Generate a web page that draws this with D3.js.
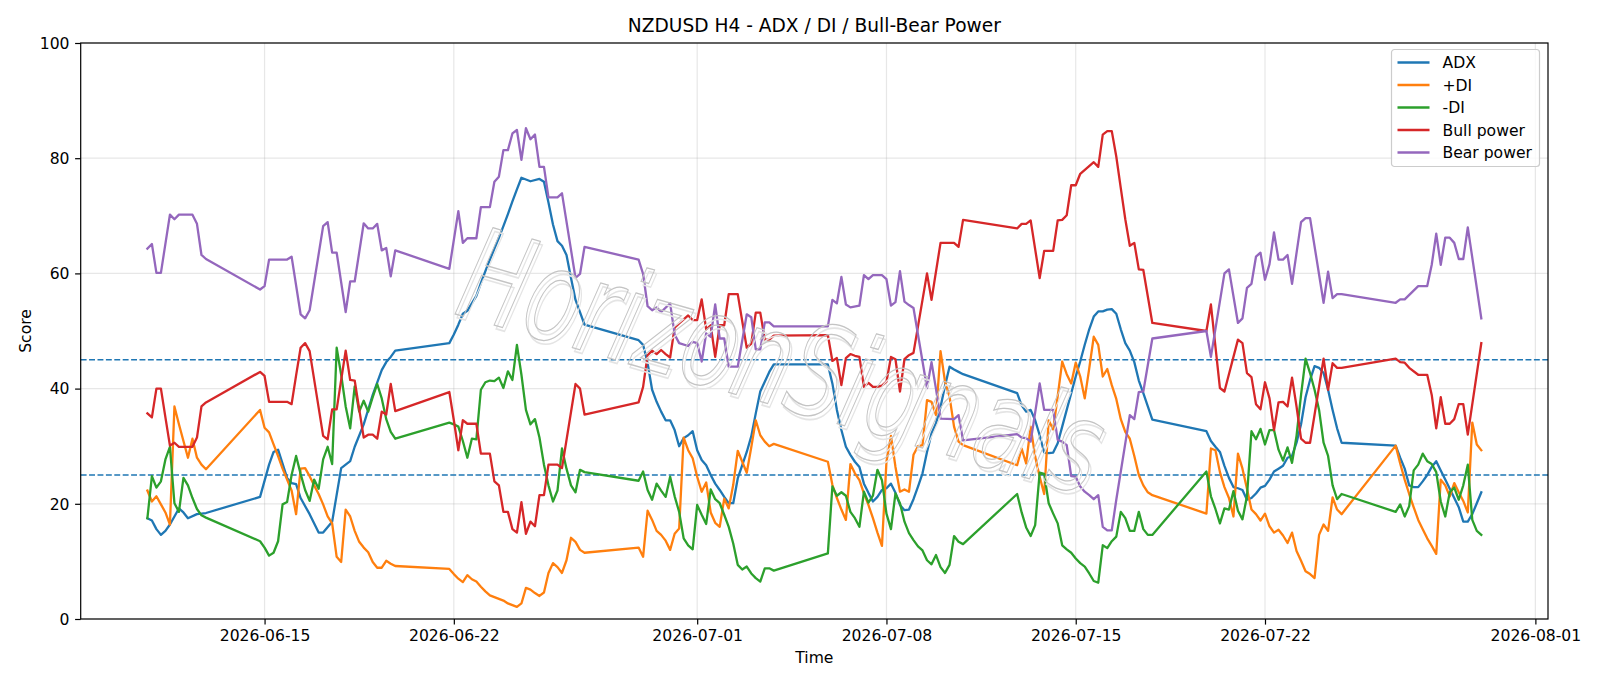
<!DOCTYPE html>
<html>
<head>
<meta charset="utf-8">
<script src="https://cdn.jsdelivr.net/npm/d3@7"></script>
<style>
  body { margin: 0; background: #fff; }
  svg { display: block; font-family: "DejaVu Sans", sans-serif; }
</style>
</head>
<body>
<svg id="chart" width="1600" height="686"></svg>
<script>
// H4 bars, "MM-DD HH" (2026), value
const adx = [
  ['06-10 16',17.5],['06-10 20',17.1],['06-11 00',15.6],['06-11 04',14.6],['06-11 08',15.3],['06-11 12',16.4],['06-11 16',17.8],['06-11 20',19.2],['06-12 00',18.5],['06-12 04',17.5],['06-12 12',18.2],['06-12 16',18.3],['06-12 20',18.4],
  ['06-14 20',21.2],['06-15 04',26.8],['06-15 08',29.0],['06-15 12',29.4],['06-15 20',24.5],['06-16 00',23.6],['06-16 04',23.4],['06-16 08',21.0],['06-16 16',18.2],['06-17 00',15.0],['06-17 04',15.0],['06-17 12',16.9],['06-17 20',26.2],['06-18 04',27.4],['06-18 08',29.9],['06-18 16',33.8],['06-19 00',38.9],['06-19 08',43.2],['06-19 12',44.6],['06-19 16',45.5],['06-19 20',46.6],
  ['06-21 20',47.9],['06-22 00',49.4],['06-22 04',51.1],['06-22 08',53.0],['06-22 12',53.5],['06-22 16',54.8],['06-22 20',56.1],['06-23 00',58.3],['06-23 04',60.4],['06-23 08',62.4],['06-23 12',64.3],['06-23 16',66.2],['06-23 20',68.2],['06-24 00',70.3],['06-24 04',72.5],['06-24 08',74.6],['06-24 12',76.6],['06-24 16',76.3],['06-24 20',76.0],['06-25 04',76.4],['06-25 08',75.9],['06-25 12',72.3],['06-25 16',68.5],['06-25 20',65.6],['06-26 00',64.8],['06-26 04',63.2],['06-26 08',59.2],['06-26 12',55.4],['06-26 20',51.1],
  ['06-28 20',48.4],['06-29 00',47.6],['06-29 04',44.4],['06-29 08',39.8],['06-29 12',37.7],['06-29 16',36.0],['06-29 20',34.5],['06-30 00',34.5],['06-30 04',32.8],['06-30 08',30.0],['06-30 12',31.4],['06-30 16',31.9],['06-30 20',32.6],['07-01 00',29.3],['07-01 04',27.6],['07-01 08',26.7],['07-01 12',25.0],['07-01 16',23.5],['07-01 20',22.4],['07-02 00',21.2],['07-02 04',20.1],['07-02 08',20.1],['07-02 12',24.4],['07-02 16',26.7],['07-02 20',29.0],['07-03 00',31.7],['07-03 04',35.7],['07-03 08',39.5],['07-03 12',41.2],['07-03 16',42.9],['07-03 20',44.2],
  ['07-05 20',44.2],['07-06 00',40.9],['07-06 04',36.3],['07-06 08',32.8],['07-06 12',29.9],['07-06 16',28.5],['07-06 20',27.3],['07-07 00',26.4],['07-07 04',23.5],['07-07 08',21.9],['07-07 12',20.4],['07-07 16',21.2],['07-07 20',22.4],['07-08 00',22.7],['07-08 04',23.5],['07-08 08',21.9],['07-08 12',19.8],['07-08 16',18.9],['07-08 20',19.0],['07-09 00',20.8],['07-09 04',23.0],['07-09 08',25.3],['07-09 12',29.0],['07-09 16',32.2],['07-09 20',34.0],['07-10 00',36.8],['07-10 04',40.5],['07-10 08',43.8],['07-10 12',43.3],['07-10 16',42.9],['07-10 20',42.5],
  ['07-12 20',39.2],['07-13 00',37.1],['07-13 04',36.0],['07-13 08',36.3],['07-13 12',34.5],['07-13 16',31.9],['07-13 20',28.9],['07-14 00',28.8],['07-14 04',28.9],['07-14 08',30.5],['07-14 12',33.4],['07-14 16',36.3],['07-14 20',39.2],['07-15 00',42.1],['07-15 04',44.7],['07-15 08',47.6],['07-15 12',50.3],['07-15 16',52.5],['07-15 20',53.4],['07-16 00',53.4],['07-16 04',53.7],['07-16 08',53.8],['07-16 12',53.0],['07-16 16',50.3],['07-16 20',47.9],['07-17 00',46.6],['07-17 04',44.6],['07-17 08',41.4],['07-17 12',39.2],['07-17 16',36.9],['07-17 20',34.6],
  ['07-19 20',32.6],['07-20 00',30.9],['07-20 04',29.9],['07-20 08',29.0],['07-20 12',26.6],['07-20 16',24.5],['07-20 20',22.9],['07-21 00',22.7],['07-21 04',22.4],['07-21 08',20.7],['07-21 12',21.0],['07-21 16',21.8],['07-21 20',22.8],['07-22 00',23.1],['07-22 04',24.2],['07-22 08',25.6],['07-22 12',26.1],['07-22 16',26.6],['07-22 20',28.0],['07-23 00',28.3],['07-23 04',30.6],['07-23 08',33.8],['07-23 12',38.5],['07-23 16',41.5],['07-23 20',43.9],['07-24 00',43.6],['07-24 04',42.7],['07-24 08',39.8],['07-24 12',36.3],['07-24 16',33.1],['07-24 20',30.6],
  ['07-26 20',30.1],['07-27 00',28.0],['07-27 04',26.1],['07-27 08',23.2],['07-27 12',22.9],['07-27 16',22.9],['07-27 20',23.9],['07-28 00',25.0],['07-28 04',26.4],['07-28 08',27.4],['07-28 12',25.8],['07-28 16',24.2],['07-28 20',22.6],['07-29 00',21.0],['07-29 04',19.4],['07-29 08',16.9],['07-29 12',16.9],['07-29 16',18.2],['07-29 20',20.1],['07-30 00',22.0]
];

const plusDI = [
  ['06-10 16',22.3],['06-10 20',20.4],['06-11 00',21.3],['06-11 04',19.9],['06-11 08',18.5],['06-11 12',16.4],['06-11 16',36.9],['06-11 20',33.8],['06-12 00',30.9],['06-12 04',28.0],['06-12 08',31.3],['06-12 12',28.0],['06-12 16',26.8],['06-12 20',26.0],
  ['06-14 20',36.3],['06-15 00',33.2],['06-15 04',32.4],['06-15 08',30.3],['06-15 12',28.3],['06-15 16',26.1],['06-15 20',24.2],['06-16 00',22.3],['06-16 04',18.2],['06-16 08',26.1],['06-16 12',26.2],['06-16 16',24.8],['06-16 20',23.2],['06-17 00',21.7],['06-17 04',19.9],['06-17 08',17.8],['06-17 12',16.6],['06-17 16',10.8],['06-17 20',9.9],['06-18 00',19.0],['06-18 04',17.8],['06-18 08',15.3],['06-18 12',13.4],['06-18 16',12.4],['06-18 20',11.6],['06-19 00',9.9],['06-19 04',8.9],['06-19 08',8.9],['06-19 12',10.1],['06-19 16',9.6],['06-19 20',9.2],
  ['06-21 20',8.7],['06-22 00',7.8],['06-22 04',7.0],['06-22 08',6.4],['06-22 12',7.6],['06-22 16',6.9],['06-22 20',6.5],['06-23 00',5.6],['06-23 04',4.8],['06-23 08',4.1],['06-23 12',3.8],['06-23 16',3.5],['06-23 20',3.2],['06-24 00',2.7],['06-24 04',2.4],['06-24 08',2.1],['06-24 12',2.7],['06-24 16',5.4],['06-24 20',5.1],['06-25 00',4.5],['06-25 04',4.0],['06-25 08',4.6],['06-25 12',8.0],['06-25 16',9.7],['06-25 20',9.0],['06-26 00',8.0],['06-26 04',10.2],['06-26 08',14.1],['06-26 12',13.4],['06-26 16',12.0],['06-26 20',11.5],
  ['06-28 20',12.4],['06-29 00',10.8],['06-29 04',18.8],['06-29 08',17.2],['06-29 12',15.3],['06-29 16',14.6],['06-29 20',13.6],['06-30 00',12.0],['06-30 04',14.8],['06-30 08',15.7],['06-30 12',31.5],['06-30 16',29.3],['06-30 20',27.9],['07-01 00',24.7],['07-01 04',22.1],['07-01 08',23.7],['07-01 12',18.5],['07-01 16',16.7],['07-01 20',16.0],['07-02 00',20.9],['07-02 04',19.2],['07-02 08',23.3],['07-02 12',29.2],['07-02 16',27.3],['07-02 20',25.4],['07-03 00',29.8],['07-03 04',34.5],['07-03 08',31.9],['07-03 12',30.8],['07-03 16',30.0],['07-03 20',30.4],
  ['07-05 20',27.3],['07-06 00',23.3],['07-06 04',21.0],['07-06 08',19.0],['07-06 12',17.2],['07-06 16',26.9],['07-06 20',25.3],['07-07 00',24.1],['07-07 04',21.8],['07-07 08',19.8],['07-07 12',17.5],['07-07 16',15.0],['07-07 20',12.7],['07-08 00',27.3],['07-08 04',31.8],['07-08 08',26.4],['07-08 12',22.1],['07-08 16',22.5],['07-08 20',22.1],['07-09 00',28.5],['07-09 04',30.0],['07-09 08',30.2],['07-09 12',38.0],['07-09 16',37.7],['07-09 20',35.4],['07-10 00',46.5],['07-10 04',41.2],['07-10 08',38.6],['07-10 12',33.4],['07-10 16',30.8],['07-10 20',30.2],
  ['07-12 20',26.7],['07-13 00',29.6],['07-13 04',27.0],['07-13 08',33.4],['07-13 12',28.2],['07-13 16',24.7],['07-13 20',21.7],['07-14 00',34.5],['07-14 04',32.9],['07-14 08',38.7],['07-14 12',44.7],['07-14 16',42.5],['07-14 20',40.9],['07-15 00',44.5],['07-15 04',42.1],['07-15 08',38.3],['07-15 12',43.5],['07-15 16',49.0],['07-15 20',47.6],['07-16 00',42.1],['07-16 04',43.4],['07-16 08',40.6],['07-16 12',38.2],['07-16 16',34.7],['07-16 20',32.5],['07-17 00',31.3],['07-17 04',28.3],['07-17 08',25.0],['07-17 12',23.2],['07-17 16',22.0],['07-17 20',21.5],
  ['07-19 20',18.3],['07-20 00',29.6],['07-20 04',29.3],['07-20 08',25.5],['07-20 12',22.9],['07-20 16',21.0],['07-20 20',17.8],['07-21 00',28.7],['07-21 04',26.1],['07-21 08',22.6],['07-21 12',19.0],['07-21 16',18.2],['07-21 20',17.1],['07-22 00',18.3],['07-22 04',16.1],['07-22 08',15.0],['07-22 12',15.5],['07-22 16',14.5],['07-22 20',13.2],['07-23 00',15.0],['07-23 04',11.8],['07-23 08',10.1],['07-23 12',8.3],['07-23 16',7.8],['07-23 20',7.1],['07-24 00',14.6],['07-24 04',16.4],['07-24 08',15.3],['07-24 12',21.1],['07-24 16',19.0],['07-24 20',18.2],
  ['07-26 20',30.1],['07-27 00',27.0],['07-27 04',24.2],['07-27 08',21.7],['07-27 12',19.4],['07-27 16',17.2],['07-27 20',15.6],['07-28 00',14.0],['07-28 04',12.7],['07-28 08',11.3],['07-28 12',24.2],['07-28 16',23.2],['07-28 20',21.3],['07-29 00',23.6],['07-29 04',22.0],['07-29 08',20.5],['07-29 12',18.5],['07-29 16',34.1],['07-29 20',30.3],['07-30 00',29.3]
];

const minusDI = [
  ['06-10 16',17.5],['06-10 20',24.8],['06-11 00',22.8],['06-11 04',23.9],['06-11 08',27.7],['06-11 12',29.9],['06-11 16',20.1],['06-11 20',18.6],['06-12 00',24.5],['06-12 04',23.2],['06-12 08',21.0],['06-12 12',19.1],['06-12 16',18.0],['06-12 20',17.6],
  ['06-14 20',13.5],['06-15 00',12.4],['06-15 04',11.0],['06-15 08',11.5],['06-15 12',13.5],['06-15 16',19.9],['06-15 20',20.3],['06-16 00',25.0],['06-16 04',28.3],['06-16 08',25.2],['06-16 12',22.4],['06-16 16',20.5],['06-16 20',24.2],['06-17 00',22.6],['06-17 04',27.7],['06-17 08',29.9],['06-17 12',26.9],['06-17 16',47.1],['06-17 20',42.4],['06-18 00',36.9],['06-18 04',33.1],['06-18 08',40.4],['06-18 12',36.0],['06-18 16',37.9],['06-18 20',36.0],['06-19 00',38.5],['06-19 04',40.8],['06-19 08',38.3],['06-19 12',34.7],['06-19 16',32.5],['06-19 20',31.3],
  ['06-21 20',34.1],['06-22 00',33.8],['06-22 04',33.4],['06-22 08',30.9],['06-22 12',28.0],['06-22 16',31.3],['06-22 20',31.2],['06-23 00',39.8],['06-23 04',41.1],['06-23 08',41.4],['06-23 12',41.3],['06-23 16',41.9],['06-23 20',40.1],['06-24 00',43.0],['06-24 04',41.5],['06-24 08',47.6],['06-24 12',42.4],['06-24 16',36.3],['06-24 20',33.8],['06-25 00',34.7],['06-25 04',31.5],['06-25 08',26.8],['06-25 12',23.2],['06-25 16',20.4],['06-25 20',22.3],['06-26 00',29.6],['06-26 04',26.1],['06-26 08',23.2],['06-26 12',22.0],['06-26 16',25.9],['06-26 20',25.5],
  ['06-28 20',24.0],['06-29 00',25.6],['06-29 04',22.4],['06-29 08',20.7],['06-29 12',23.5],['06-29 16',22.3],['06-29 20',21.2],['06-30 00',24.7],['06-30 04',21.3],['06-30 08',18.6],['06-30 12',14.0],['06-30 16',12.8],['06-30 20',12.1],['07-01 00',19.8],['07-01 04',18.1],['07-01 08',16.5],['07-01 12',22.5],['07-01 16',20.8],['07-01 20',20.1],['07-02 00',18.1],['07-02 04',16.0],['07-02 08',13.1],['07-02 12',9.4],['07-02 16',8.6],['07-02 20',9.1],['07-03 00',7.9],['07-03 04',7.1],['07-03 08',6.5],['07-03 12',8.8],['07-03 16',8.8],['07-03 20',8.4],
  ['07-05 20',11.4],['07-06 00',23.0],['07-06 04',21.4],['07-06 08',22.0],['07-06 12',21.4],['07-06 16',18.6],['07-06 20',17.5],['07-07 00',16.0],['07-07 04',22.1],['07-07 08',20.2],['07-07 12',21.4],['07-07 16',25.9],['07-07 20',24.1],['07-08 00',18.3],['07-08 04',15.6],['07-08 08',21.8],['07-08 12',20.1],['07-08 16',16.9],['07-08 20',14.9],['07-09 00',13.7],['07-09 04',12.6],['07-09 08',11.9],['07-09 12',10.2],['07-09 16',9.5],['07-09 20',11.1],['07-10 00',9.0],['07-10 04',8.0],['07-10 08',9.4],['07-10 12',14.4],['07-10 16',13.4],['07-10 20',13.0],
  ['07-12 20',21.7],['07-13 00',18.5],['07-13 04',15.9],['07-13 08',14.4],['07-13 12',16.3],['07-13 16',25.4],['07-13 20',25.2],['07-14 00',20.1],['07-14 04',18.3],['07-14 08',16.6],['07-14 12',12.8],['07-14 16',12.1],['07-14 20',11.5],['07-15 00',10.5],['07-15 04',9.7],['07-15 08',9.1],['07-15 12',7.9],['07-15 16',6.6],['07-15 20',6.3],['07-16 00',12.8],['07-16 04',12.3],['07-16 08',13.5],['07-16 12',14.3],['07-16 16',18.6],['07-16 20',17.5],['07-17 00',15.3],['07-17 04',15.3],['07-17 08',18.6],['07-17 12',15.6],['07-17 16',14.6],['07-17 20',14.6],
  ['07-19 20',25.6],['07-20 00',21.3],['07-20 04',19.1],['07-20 08',16.6],['07-20 12',19.2],['07-20 16',19.0],['07-20 20',22.2],['07-21 00',18.8],['07-21 04',17.3],['07-21 08',21.3],['07-21 12',32.6],['07-21 16',31.2],['07-21 20',33.0],['07-22 00',30.3],['07-22 04',32.8],['07-22 08',32.8],['07-22 12',29.4],['07-22 16',27.5],['07-22 20',29.8],['07-23 00',27.1],['07-23 04',31.8],['07-23 08',38.9],['07-23 12',45.2],['07-23 16',42.7],['07-23 20',39.8],['07-24 00',36.3],['07-24 04',30.6],['07-24 08',28.3],['07-24 12',23.2],['07-24 16',20.8],['07-24 20',21.7],
  ['07-26 20',18.6],['07-27 00',19.9],['07-27 04',17.8],['07-27 08',19.6],['07-27 12',25.8],['07-27 16',26.8],['07-27 20',28.7],['07-28 00',27.4],['07-28 04',26.9],['07-28 08',25.5],['07-28 12',20.4],['07-28 16',17.8],['07-28 20',22.0],['07-29 00',22.8],['07-29 04',20.7],['07-29 08',23.2],['07-29 12',26.8],['07-29 16',17.2],['07-29 20',15.3],['07-30 00',14.6]
];

const bullPower = [
  ['06-10 16',35.7],['06-10 20',35.0],['06-11 00',40.0],['06-11 04',40.0],['06-11 08',35.0],['06-11 12',30.1],['06-11 16',30.6],['06-11 20',29.9],['06-12 08',29.9],['06-12 12',31.5],['06-12 16',36.9],['06-12 20',37.6],
  ['06-14 20',42.9],['06-15 00',42.2],['06-15 04',37.7],['06-15 20',37.7],['06-16 00',37.3],['06-16 04',42.3],['06-16 08',47.1],['06-16 12',47.9],['06-16 16',46.5],['06-17 04',31.8],['06-17 08',31.2],['06-17 12',36.4],['06-17 16',36.4],['06-18 00',46.6],['06-18 04',41.5],['06-18 08',41.4],['06-18 16',31.5],['06-18 20',32.0],['06-19 00',32.0],['06-19 04',31.3],['06-19 08',36.0],['06-19 12',35.5],['06-19 16',40.8],['06-19 20',36.1],
  ['06-21 20',39.4],['06-22 00',34.5],['06-22 04',29.3],['06-22 08',34.5],['06-22 12',33.9],['06-22 20',33.9],['06-23 00',28.7],['06-23 08',28.7],['06-23 12',23.9],['06-23 16',23.2],['06-23 20',18.6],['06-24 00',18.6],['06-24 04',15.6],['06-24 08',15.0],['06-24 12',20.3],['06-24 16',14.8],['06-24 20',16.9],['06-25 00',16.1],['06-25 04',21.5],['06-25 08',21.5],['06-25 12',26.8],['06-25 20',26.8],['06-26 00',26.2],['06-26 12',40.8],['06-26 16',40.0],['06-26 20',35.5],
  ['06-28 20',37.6],['06-29 00',40.3],['06-29 04',45.8],['06-29 08',46.6],['06-29 12',46.0],['06-29 16',46.7],['06-29 20',46.0],['06-30 00',45.4],['06-30 04',50.6],['06-30 08',51.3],['06-30 12',52.0],['06-30 16',52.7],['06-30 20',51.9],['07-01 00',51.9],['07-01 04',55.5],['07-01 08',50.3],['07-01 12',51.0],['07-01 16',45.5],['07-01 20',51.0],['07-02 00',51.0],['07-02 04',56.4],['07-02 12',56.4],['07-02 16',51.7],['07-02 20',47.1],['07-03 00',47.8],['07-03 04',53.2],['07-03 08',53.2],['07-03 12',48.5],['07-03 16',48.5],['07-03 20',49.2],
  ['07-05 20',49.3],['07-06 00',44.8],['07-06 04',45.3],['07-06 08',40.6],['07-06 12',45.3],['07-06 16',46.0],['07-06 20',45.7],['07-07 00',45.5],['07-07 04',40.3],['07-07 08',41.0],['07-07 12',40.3],['07-07 16',40.3],['07-07 20',40.5],['07-08 00',41.2],['07-08 04',45.5],['07-08 08',45.1],['07-08 12',39.5],['07-08 16',45.1],['07-08 20',45.8],['07-09 00',46.2],['07-09 12',60.0],['07-09 16',55.4],['07-10 00',65.3],['07-10 12',65.3],['07-10 16',64.6],['07-10 20',69.3],
  ['07-12 20',67.8],['07-13 00',68.6],['07-13 04',68.6],['07-13 08',69.2],['07-13 16',59.2],['07-13 20',63.9],['07-14 04',63.9],['07-14 08',69.2],['07-14 12',69.3],['07-14 16',70.1],['07-14 20',75.3],['07-15 00',75.3],['07-15 04',77.3],['07-15 16',79.3],['07-15 20',78.5],['07-16 00',84.1],['07-16 04',84.7],['07-16 08',84.7],['07-16 12',80.3],['07-16 16',74.8],['07-16 20',69.4],['07-17 00',64.8],['07-17 04',65.3],['07-17 08',60.7],['07-17 12',60.6],['07-17 20',51.4],
  ['07-19 20',50.0],['07-20 00',54.6],['07-20 08',40.1],['07-20 12',39.5],['07-21 00',48.5],['07-21 04',47.9],['07-21 08',42.7],['07-21 12',42.0],['07-21 16',37.3],['07-21 20',36.4],['07-22 00',41.1],['07-22 04',38.3],['07-22 08',32.8],['07-22 12',37.6],['07-22 16',37.7],['07-22 20',36.9],['07-23 00',41.9],['07-23 04',36.9],['07-23 08',31.3],['07-23 12',30.6],['07-23 16',30.6],['07-24 04',45.2],['07-24 08',39.8],['07-24 12',44.4],['07-24 16',43.6],['07-24 20',43.6],
  ['07-26 20',45.2],['07-27 00',44.6],['07-27 04',44.5],['07-27 08',43.6],['07-27 16',42.4],['07-28 00',42.4],['07-28 04',38.9],['07-28 08',33.1],['07-28 12',38.5],['07-28 16',33.9],['07-28 20',33.9],['07-29 00',34.7],['07-29 04',37.3],['07-29 08',37.3],['07-29 12',32.0],['07-30 00',47.9]
];

const bearPower = [
  ['06-10 16',64.3],['06-10 20',65.1],['06-11 00',60.1],['06-11 04',60.1],['06-11 12',70.2],['06-11 16',69.4],['06-11 20',70.2],['06-12 08',70.2],['06-12 12',68.6],['06-12 16',63.2],['06-12 20',62.5],
  ['06-14 20',57.2],['06-15 00',57.8],['06-15 04',62.4],['06-15 20',62.4],['06-16 00',62.9],['06-16 08',52.9],['06-16 12',52.2],['06-16 16',53.6],['06-17 04',68.2],['06-17 08',68.9],['06-17 12',63.6],['06-17 16',63.6],['06-18 00',53.3],['06-18 04',58.6],['06-18 08',58.6],['06-18 16',68.7],['06-18 20',67.8],['06-19 00',67.8],['06-19 04',68.6],['06-19 08',64.0],['06-19 12',64.4],['06-19 16',59.5],['06-19 20',64.0],
  ['06-21 20',60.8],['06-22 04',70.8],['06-22 08',65.3],['06-22 12',66.1],['06-22 20',66.1],['06-23 00',71.5],['06-23 08',71.5],['06-23 12',75.9],['06-23 16',76.8],['06-23 20',81.4],['06-24 00',81.4],['06-24 04',84.3],['06-24 08',84.9],['06-24 12',79.7],['06-24 16',85.2],['06-24 20',83.3],['06-25 00',84.1],['06-25 04',78.5],['06-25 08',78.5],['06-25 12',73.2],['06-25 20',73.2],['06-26 00',73.9],['06-26 12',59.2],['06-26 16',59.9],['06-26 20',64.6],
  ['06-28 20',62.4],['06-29 00',59.9],['06-29 04',54.3],['06-29 08',53.6],['06-29 12',54.1],['06-29 16',53.3],['06-30 00',54.8],['06-30 04',49.4],['06-30 08',47.9],['06-30 16',47.4],['06-30 20',48.1],['07-01 00',47.9],['07-01 04',44.7],['07-01 08',49.6],['07-01 12',49.0],['07-01 16',54.6],['07-01 20',48.7],['07-02 00',48.7],['07-02 04',43.8],['07-02 12',43.8],['07-02 20',52.9],['07-03 00',52.4],['07-03 04',46.8],['07-03 08',46.8],['07-03 12',51.5],['07-03 16',51.5],['07-03 20',50.8],
  ['07-05 20',50.8],['07-06 00',55.4],['07-06 04',54.8],['07-06 08',59.4],['07-06 12',54.6],['07-06 16',54.1],['07-07 00',54.4],['07-07 04',59.7],['07-07 08',59.0],['07-07 12',59.7],['07-07 20',59.7],['07-08 00',59.0],['07-08 04',54.4],['07-08 08',55.0],['07-08 12',60.4],['07-08 16',55.1],['07-08 20',54.5],['07-09 00',54.0],['07-09 12',40.1],['07-09 16',44.6],['07-09 20',39.9],['07-10 00',34.8],['07-10 12',34.7],['07-10 16',35.4],['07-10 20',31.0],
  ['07-12 20',32.1],['07-13 00',31.5],['07-13 04',31.4],['07-13 08',30.8],['07-13 16',40.9],['07-13 20',36.3],['07-14 04',36.3],['07-14 08',31.1],['07-14 12',30.8],['07-14 16',30.2],['07-14 20',24.8],['07-15 00',24.7],['07-15 04',23.0],['07-15 08',22.1],['07-15 12',21.5],['07-15 16',20.8],['07-15 20',21.5],['07-16 00',16.0],['07-16 04',15.4],['07-16 08',15.4],['07-16 12',20.7],['07-17 00',35.4],['07-17 04',34.7],['07-17 08',39.4],['07-17 12',39.5],['07-17 20',48.7],
  ['07-19 20',50.0],['07-20 00',45.5],['07-20 12',60.0],['07-20 16',60.7],['07-21 00',51.4],['07-21 04',52.2],['07-21 08',57.5],['07-21 12',58.2],['07-21 16',62.9],['07-21 20',63.6],['07-22 00',58.9],['07-22 04',61.6],['07-22 08',67.1],['07-22 12',62.4],['07-22 16',62.4],['07-22 20',63.2],['07-23 00',58.2],['07-23 08',68.9],['07-23 12',69.6],['07-23 16',69.6],['07-24 04',54.9],['07-24 08',60.3],['07-24 12',55.7],['07-24 16',56.4],['07-24 20',56.4],
  ['07-26 20',54.9],['07-27 00',55.5],['07-27 04',55.5],['07-27 16',57.8],['07-28 00',57.8],['07-28 04',61.5],['07-28 08',66.9],['07-28 12',61.5],['07-28 16',66.2],['07-28 20',66.2],['07-29 00',65.3],['07-29 04',62.5],['07-29 08',62.5],['07-29 12',68.0],['07-30 00',52.2]
];

const seriesNames = ['ADX', '+DI', '-DI', 'Bull power', 'Bear power'];
const seriesColors = ['#1f77b4', '#ff7f0e', '#2ca02c', '#d62728', '#9467bd'];
const levelLines = [25, 45];
const yTicks = [0, 20, 40, 60, 80, 100];
const xTickLabels = ['2026-06-15', '2026-06-22', '2026-07-01', '2026-07-08', '2026-07-15', '2026-07-22', '2026-08-01'];
const titleText = 'NZDUSD H4 - ADX / DI / Bull-Bear Power';
const watermarkText = 'HorizonSignals';

const parseBar = d3.timeParse('%Y-%m-%d %H');
const parseDay = d3.timeParse('%Y-%m-%d');
const toPoints = rows => rows.map(([t, v]) => ({ date: parseBar('2026-' + t), value: v }));

const series = [adx, plusDI, minusDI, bullPower, bearPower].map((rows, i) => ({
  name: seriesNames[i],
  color: seriesColors[i],
  points: toPoints(rows)
}));

const svg = d3.select('#chart');
const width = +svg.attr('width');
const height = +svg.attr('height');

const margin = { top: 43, right: 52, bottom: 67, left: 80.7 };
const innerWidth = width - margin.left - margin.right;
const innerHeight = height - margin.top - margin.bottom;
const fontSize = 15.6;

// matplotlib style 5% padding on the time axis
const allDates = series.flatMap(s => s.points.map(p => p.date));
const [t0, t1] = d3.extent(allDates);
const pad = (t1 - t0) * 0.05;

const xScale = d3.scaleTime()
  .domain([new Date(+t0 - pad), new Date(+t1 + pad)])
  .range([0, innerWidth]);
const yScale = d3.scaleLinear()
  .domain([0, 100])
  .range([innerHeight, 0]);

const g = svg.append('g')
  .attr('transform', `translate(${margin.left}, ${margin.top})`);

const xTickDates = xTickLabels.map(parseDay);

// grid
g.append('g').selectAll('line').data(yTicks).enter().append('line')
  .attr('x1', 0).attr('x2', innerWidth)
  .attr('y1', d => yScale(d)).attr('y2', d => yScale(d))
  .attr('stroke', '#b0b0b0').attr('stroke-opacity', 0.3).attr('stroke-width', 1.2);
g.append('g').selectAll('line').data(xTickDates).enter().append('line')
  .attr('x1', d => xScale(d)).attr('x2', d => xScale(d))
  .attr('y1', 0).attr('y2', innerHeight)
  .attr('stroke', '#b0b0b0').attr('stroke-opacity', 0.3).attr('stroke-width', 1.2);

// level lines
g.append('g').selectAll('line').data(levelLines).enter().append('line')
  .attr('x1', 0).attr('x2', innerWidth)
  .attr('y1', d => yScale(d)).attr('y2', d => yScale(d))
  .attr('stroke', '#1f77b4').attr('stroke-width', 1.5)
  .attr('stroke-dasharray', '5.9,2.5');

// series
const line = d3.line()
  .x(d => xScale(d.date))
  .y(d => yScale(d.value));

g.append('g').selectAll('path').data(series).enter().append('path')
  .attr('d', d => line(d.points))
  .attr('fill', 'none')
  .attr('stroke', d => d.color)
  .attr('stroke-width', 2.3)
  .attr('stroke-linejoin', 'round')
  .attr('stroke-linecap', 'square');

// watermark (outlined, with a faint shadow)
const wm = g.append('g')
  .attr('transform', `translate(${782 - margin.left}, ${362 - margin.top}) rotate(16)`);
[[3, 3, '#e4e4e4', 1.6], [0, 0, '#c4c4c4', 1.3]].forEach(([dx, dy, col, sw]) => {
  wm.append('text')
    .attr('x', dx).attr('y', dy + 44)
    .attr('text-anchor', 'middle')
    .attr('font-size', 128)
    .attr('font-style', 'italic')
    .attr('textLength', 660)
    .attr('lengthAdjust', 'spacingAndGlyphs')
    .attr('fill', 'none')
    .attr('stroke', col)
    .attr('stroke-width', sw)
    .text(watermarkText);
});

// axes
const axisStyle = sel => {
  sel.select('.domain').remove();
  sel.selectAll('line').attr('stroke', '#000').attr('stroke-width', 1.2);
  sel.selectAll('text')
    .attr('font-size', fontSize)
    .attr('font-family', '"DejaVu Sans", sans-serif')
    .attr('fill', '#000');
};

const xAxis = d3.axisBottom(xScale)
  .tickValues(xTickDates)
  .tickFormat(d3.timeFormat('%Y-%m-%d'))
  .tickSize(5.6)
  .tickPadding(5.6);
g.append('g')
  .attr('transform', `translate(0, ${innerHeight})`)
  .call(xAxis)
  .call(axisStyle)
  .call(a => a.selectAll('text').attr('dy', null).attr('y', 22.3));

const yAxis = d3.axisLeft(yScale)
  .tickValues(yTicks)
  .tickSize(5.6)
  .tickPadding(5.6);
g.append('g')
  .call(yAxis)
  .call(axisStyle)
  .call(a => a.selectAll('text').attr('dy', null).attr('y', 5.2));

// frame
g.append('rect')
  .attr('width', innerWidth).attr('height', innerHeight)
  .attr('fill', 'none').attr('stroke', '#000').attr('stroke-width', 1.2);

// labels
svg.append('text')
  .attr('x', margin.left + innerWidth / 2).attr('y', 32)
  .attr('text-anchor', 'middle')
  .attr('font-size', 18.6)
  .text(titleText);
svg.append('text')
  .attr('x', margin.left + innerWidth / 2).attr('y', 663)
  .attr('text-anchor', 'middle')
  .attr('font-size', fontSize)
  .text('Time');
svg.append('text')
  .attr('transform', `translate(31, ${margin.top + innerHeight / 2}) rotate(-90)`)
  .attr('text-anchor', 'middle')
  .attr('font-size', fontSize)
  .text('Score');

// legend
const legend = svg.append('g').attr('transform', 'translate(1391.5, 49.5)');
legend.append('rect')
  .attr('width', 148).attr('height', 117).attr('rx', 3)
  .attr('fill', '#fff').attr('fill-opacity', 0.8)
  .attr('stroke', '#cccccc').attr('stroke-width', 1.2);
const item = legend.selectAll('.item').data(series).enter().append('g')
  .attr('class', 'item')
  .attr('transform', (d, i) => `translate(0, ${13 + i * 22.5})`);
item.append('line')
  .attr('x1', 6).attr('x2', 38)
  .attr('stroke', d => d.color).attr('stroke-width', 2.3);
item.append('text')
  .attr('x', 51).attr('y', 5.6)
  .attr('font-size', fontSize)
  .text(d => d.name);
</script>
</body>
</html>
